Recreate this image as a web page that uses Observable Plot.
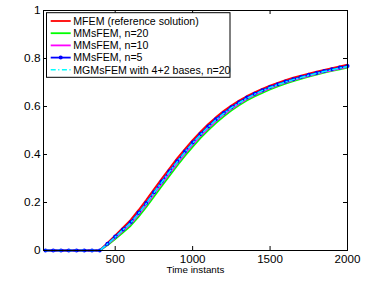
<!DOCTYPE html>
<html>
<head>
<meta charset="utf-8">
<script src="https://cdn.jsdelivr.net/npm/d3@7"></script>
<script src="https://cdn.jsdelivr.net/npm/@observablehq/plot@0.6"></script>
<style>
  html, body { margin: 0; padding: 0; background: white; }
</style>
</head>
<body>
<div id="chart"></div>
<script>
const times = [50,100,150,200,250,300,350,400,450,500,550,600,650,700,750,800,850,900,950,1000,
  1050,1100,1150,1200,1250,1300,1350,1400,1450,1500,1550,1600,1650,1700,1750,1800,1850,1900,1950,2000];

const mfem = [0,0,0,0,0,0,0,0,0.032,0.063,0.095,0.128,0.168,0.210,0.255,0.299,0.342,0.384,0.423,0.460,
  0.494,0.526,0.555,0.581,0.604,0.625,0.643,0.659,0.674,0.687,0.699,0.710,0.720,0.729,0.737,0.745,0.753,0.760,0.767,0.774];
const mms20 = [0,0,0,0,0,0,0,0,0.022,0.048,0.075,0.103,0.140,0.180,0.224,0.268,0.311,0.353,0.394,0.432,
  0.468,0.501,0.531,0.558,0.583,0.605,0.625,0.642,0.657,0.671,0.684,0.695,0.706,0.715,0.724,0.733,0.741,0.748,0.755,0.762];
const mms10 = [0,0,0,0,0,0,0,0,0.025,0.053,0.082,0.111,0.149,0.190,0.234,0.278,0.321,0.363,0.403,0.441,
  0.477,0.509,0.539,0.566,0.590,0.611,0.631,0.648,0.663,0.676,0.689,0.700,0.710,0.719,0.728,0.736,0.744,0.751,0.758,0.765];
const mms5 = [0,0,0,0,0,0,0,0,0.028,0.058,0.088,0.118,0.157,0.198,0.243,0.287,0.330,0.372,0.412,0.450,
  0.485,0.517,0.547,0.573,0.597,0.618,0.637,0.653,0.668,0.681,0.693,0.704,0.714,0.723,0.732,0.740,0.748,0.755,0.762,0.769];
const mgms = [0,0,0,0,0,0,0,0,0.027,0.056,0.086,0.115,0.154,0.195,0.240,0.284,0.327,0.369,0.409,0.447,
  0.482,0.514,0.544,0.570,0.594,0.615,0.634,0.651,0.666,0.679,0.691,0.702,0.712,0.721,0.730,0.738,0.746,0.753,0.760,0.767];

const seriesNames = ["MFEM (reference solution)", "MMsFEM, n=20", "MMsFEM, n=10", "MMsFEM, n=5", "MGMsFEM with 4+2 bases, n=20"];
const seriesColors = ["#ff0000", "#00ff00", "#ff00ff", "#0000ff", "#00ffff"];
const xTicks = [500, 1000, 1500, 2000];
const yTicks = [0, 0.2, 0.4, 0.6, 0.8, 1];
const xLabel = "Time instants";

const seriesValues = [mfem, mms20, mms10, mms5, mgms];
const rows = seriesValues.map((vals, i) => times.map((t, j) => ({t, v: vals[j], s: i})));

const W = 379, H = 290, mL = 43, mR = 32, mT = 10, mB = 40;
const fw = W - mL - mR, fh = H - mT - mB;

const lineMarks = rows.map((data, i) => Plot.line(data, {
  x: "t", y: "v",
  stroke: seriesColors[i],
  strokeWidth: i === 4 ? 1.5 : 1.8,
  strokeDasharray: i === 4 ? "5,2.5,1.2,2.5" : null
}));

const chart = Plot.plot({
  width: W, height: H,
  marginLeft: mL, marginRight: mR, marginTop: mT, marginBottom: mB,
  style: {fontFamily: "'Liberation Sans', Arial, sans-serif", fontSize: "11.5px", background: "white", color: "black"},
  x: {domain: [37, 2000]},
  y: {domain: [0, 1]},
  marks: [
    lineMarks[0], lineMarks[1], lineMarks[2], lineMarks[3],
    Plot.dot(rows[3], {x: "t", y: "v", r: 2, fill: seriesColors[3], stroke: null}),
    lineMarks[4],
    Plot.frame({stroke: "black", strokeWidth: 1}),
    Plot.tickX(xTicks, {x: d => d, insetTop: fh - 4, stroke: "black"}),
    Plot.tickX(xTicks, {x: d => d, insetBottom: fh - 4, stroke: "black"}),
    Plot.tickY(yTicks, {y: d => d, insetRight: fw - 4, stroke: "black"}),
    Plot.tickY(yTicks, {y: d => d, insetLeft: fw - 4, stroke: "black"}),
    Plot.axisX(xTicks, {tickSize: 0, tickPadding: 4, label: null, tickFormat: d => String(d), fontSize: 11.6}),
    Plot.axisY(yTicks, {tickSize: 0, tickPadding: 3, label: null, tickFormat: d => String(d), fontSize: 11.8}),
    Plot.text([xLabel], {frameAnchor: "bottom", dy: 22.5, fontSize: 9.8, fill: "black"})
  ]
});

document.getElementById("chart").append(chart);

// Legend inside the plot area (top-left)
const svg = d3.select(chart);
const lg = svg.append("g")
  .attr("font-family", "'Liberation Sans', Arial, sans-serif")
  .attr("font-size", 10.6)
  .attr("text-anchor", "start");
const bx = 46.5, by = 12.7, bw = 183.5, bh = 64.6;
lg.append("rect").attr("x", bx).attr("y", by).attr("width", bw).attr("height", bh)
  .attr("fill", "white").attr("stroke", "black").attr("stroke-width", 1);
seriesNames.forEach((name, i) => {
  const yy = 21 + i * 12.2;
  lg.append("line").attr("x1", 50.7).attr("x2", 70.7).attr("y1", yy).attr("y2", yy)
    .attr("stroke", seriesColors[i]).attr("stroke-width", i === 4 ? 1.5 : 1.8)
    .attr("stroke-dasharray", i === 4 ? "5,2.5,1.2,2.5" : null);
  if (i === 3) {
    lg.append("circle").attr("cx", 60.7).attr("cy", yy).attr("r", 2).attr("fill", seriesColors[i]);
  }
  lg.append("text").attr("x", 73.3).attr("y", yy).attr("dy", "0.35em")
    .attr("text-anchor", "start").attr("fill", "black").text(name);
});
</script>
</body>
</html>
